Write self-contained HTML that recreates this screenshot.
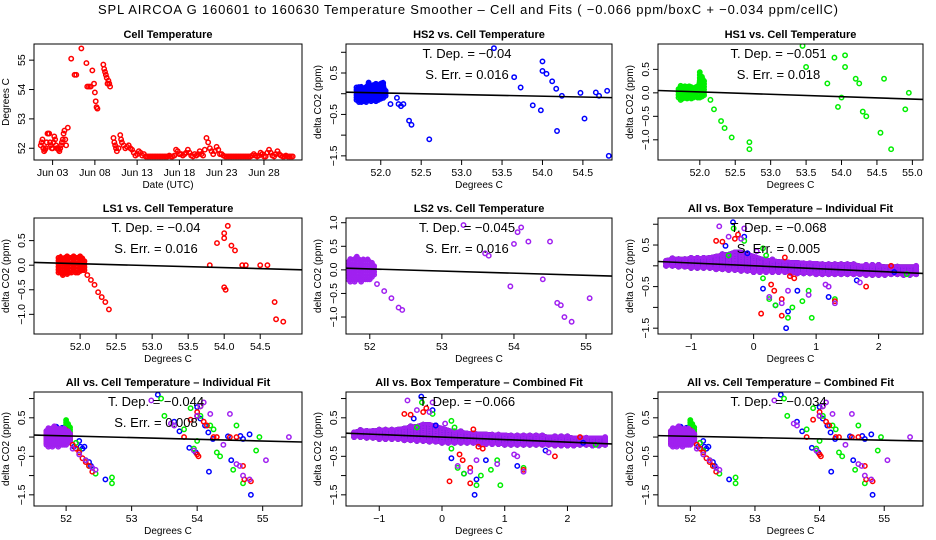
<!DOCTYPE html>
<html><head><meta charset="utf-8">
<style>
html,body{margin:0;padding:0;background:#fff;}
svg{display:block;font-family:"Liberation Sans",sans-serif;}
</style></head>
<body>
<svg id="chart" width="936" height="540" viewBox="0 0 936 540" xmlns="http://www.w3.org/2000/svg">
<text x="468" y="14" text-anchor="middle" font-size="13" textLength="740">SPL   AIRCOA G   160601 to 160630   Temperature Smoother – Cell and Fits ( −0.066  ppm/boxC +  −0.034  ppm/cellC)</text>
</svg>
<script>
// ---------- data ----------
const tDays = [1.6,1.7,1.8,1.9,2.0,2.1,2.2,2.3,2.4,2.5,2.6,2.7,2.8,2.9,3.0,3.1,3.2,3.3,3.4,3.5,3.6,3.7,3.8,3.9,4.0,4.1,4.2,4.3,4.4,4.5,4.6,4.8,5.2,5.6,5.8,6.4,7.0,7.1,7.3,7.5,7.7,7.9,8.0,8.1,8.2,8.3,9.0,9.1,9.2,9.3,9.4,9.5,9.6,9.7,9.8,10.2,10.3,10.4,10.5,10.6,10.8,11.0,11.1,11.2,11.4,11.6,11.8,12.0,12.2,12.4,12.6,12.8,13.0,13.2,13.4,13.6,13.8,14.0,14.2,14.4,14.6,14.8,15.0,15.2,15.4,15.6,15.8,16.0,16.2,16.4,16.6,16.8,17.0,17.2,17.4,17.6,17.8,18.0,18.2,18.4,18.6,18.8,19.0,19.2,19.4,19.6,19.8,20.0,20.2,20.4,20.6,20.8,21.0,21.2,21.4,21.6,21.8,22.0,22.2,22.4,22.6,22.8,23.0,23.2,23.4,23.6,23.8,24.0,24.2,24.4,24.6,24.8,25.0,25.2,25.4,25.6,25.8,26.0,26.2,26.4,26.6,26.8,27.0,27.2,27.4,27.6,27.8,28.0,28.2,28.4,28.6,28.8,29.0,29.2,29.4,29.6,29.8,30.0,30.2,30.4,30.6,30.8,31.0,31.2,31.4];
const tTemps = [52.1,52.2,52.3,52.0,51.9,51.95,52.0,52.2,52.5,52.5,52.5,52.2,52.1,52.0,52.0,52.2,52.4,52.3,52.1,52.0,52.0,51.95,51.9,52.0,52.1,52.2,52.3,52.5,52.6,52.3,52.1,52.7,55.05,54.5,54.5,55.4,54.9,54.1,54.1,54.1,54.65,54.2,53.9,53.6,53.4,53.35,54.85,54.7,54.6,54.5,54.4,54.2,54.3,54.2,54.1,52.35,52.2,52.1,52.0,51.9,52.0,52.45,52.3,52.2,52.1,52.0,52.05,52.1,52.0,51.95,51.85,51.75,51.8,51.9,51.85,51.75,51.8,51.72,51.72,51.72,51.72,51.72,51.72,51.72,51.72,51.72,51.72,51.72,51.72,51.72,51.72,51.75,51.72,51.72,51.75,51.95,51.9,51.8,51.8,51.75,51.8,51.85,51.95,51.85,51.75,51.72,51.8,51.75,51.8,51.9,51.8,51.75,51.95,52.35,52.2,52.0,51.9,51.8,51.9,52.05,51.95,51.8,51.8,51.75,51.72,51.72,51.72,51.72,51.72,51.72,51.72,51.72,51.72,51.72,51.72,51.72,51.72,51.72,51.72,51.72,51.75,51.8,51.75,51.72,51.75,51.85,51.8,51.72,51.72,51.85,51.95,51.85,51.75,51.72,51.8,51.9,51.8,51.75,51.72,51.72,51.75,51.72,51.72,51.72,51.72,51.72,51.72];
const tDayTicks = [3,8,13,18,23,28];
const tDayLabels = ["Jun 03","Jun 08","Jun 13","Jun 18","Jun 23","Jun 28"];

const clX = [51.70,51.73,51.76,51.79,51.82,51.85,51.88,51.91,51.94,51.97,52.00,52.03,52.06];
const hs2Lo = [-0.15,-0.2,-0.2,-0.18,-0.2,-0.15,-0.18,-0.15,-0.18,-0.15,-0.12,-0.1,-0.05];
const hs2Hi = [0.15,0.18,0.2,0.15,0.2,0.28,0.2,0.22,0.25,0.2,0.28,0.3,0.1];
const hs1Lo = [-0.1,-0.15,-0.12,-0.1,-0.12,-0.1,-0.12,-0.1,-0.08,-0.1,-0.1,-0.08,-0.05];
const hs1Hi = [0.1,0.15,0.12,0.15,0.12,0.15,0.15,0.12,0.15,0.15,0.45,0.35,0.3];
const ls1Lo = [-0.15,-0.15,-0.2,-0.15,-0.18,-0.15,-0.15,-0.12,-0.15,-0.15,-0.12,-0.1,-0.1];
const ls1Hi = [0.15,0.2,0.15,0.18,0.2,0.15,0.18,0.2,0.15,0.18,0.2,0.15,0.1];
const ls2Lo = [-0.2,-0.25,-0.2,-0.25,-0.2,-0.2,-0.25,-0.2,-0.2,-0.2,-0.2,-0.15,-0.1];
const ls2Hi = [0.2,0.25,0.2,0.25,0.3,0.25,0.2,0.25,0.2,0.25,0.2,0.15,0.1];

const hs2X = [52.12,52.2,52.22,52.25,52.28,52.35,52.38,52.6,53.4,53.65,53.73,53.88,53.98,54.0,54.0,54.05,54.12,54.17,54.18,54.24,54.47,54.52,54.66,54.7,54.8,54.82];
const hs2Y = [-0.25,-0.1,-0.25,-0.3,-0.25,-0.65,-0.75,-1.1,1.1,0.4,0.15,-0.28,-0.4,0.78,0.55,0.48,0.3,0.12,-0.9,-0.05,0.02,-0.6,0.03,-0.05,0.07,-1.5];
const hs1X = [52.15,52.2,52.3,52.35,52.45,52.7,52.7,53.45,53.5,53.8,53.9,54.05,54.05,54.0,53.95,54.2,54.25,54.3,54.35,54.6,54.55,54.7,54.9,54.95];
const hs1Y = [-0.15,-0.35,-0.6,-0.75,-0.95,-1.2,-1.05,1.0,0.55,0.2,0.75,0.8,0.55,-0.1,-0.3,0.3,0.2,-0.4,-0.5,0.3,-0.85,-1.2,-0.35,0.0];
const ls1X = [52.1,52.15,52.2,52.25,52.3,52.35,52.4,53.8,53.9,54.0,54.0,54.05,54.1,54.15,54.25,54.3,54.0,54.02,54.5,54.6,54.7,54.72,54.82];
const ls1Y = [-0.2,-0.3,-0.4,-0.55,-0.65,-0.75,-0.9,0.0,0.45,0.65,0.55,0.8,0.4,0.3,0.0,0.0,-0.45,-0.5,0.0,0.0,-0.75,-1.1,-1.15];
const ls2X = [52.1,52.2,52.3,52.4,52.45,53.3,53.6,53.65,53.95,54.0,54.05,54.1,54.2,54.4,54.5,54.6,54.65,54.7,54.8,55.05,55.4];
const ls2Y = [-0.3,-0.45,-0.6,-0.8,-0.85,0.95,0.35,0.3,-0.35,0.55,0.8,0.9,0.6,-0.2,0.6,-0.7,-0.75,-1.0,-1.1,-0.6,0.0];

const bandX = [-1.4,-1.3,-1.2,-1.1,-1.0,-0.9,-0.8,-0.7,-0.6,-0.5,-0.4,-0.3,-0.2,-0.1,0.0,0.1,0.2,0.3,0.4,0.5,0.6,0.7,0.8,0.9,1.0,1.1,1.2,1.3,1.4,1.5,1.6,1.7,1.8,1.9,2.0,2.1,2.2,2.3,2.4,2.5,2.6];
const bandLo = [0.0,0.0,-0.02,-0.02,-0.05,-0.05,-0.05,-0.05,-0.08,-0.08,-0.1,-0.1,-0.12,-0.12,-0.15,-0.15,-0.15,-0.15,-0.15,-0.15,-0.18,-0.18,-0.18,-0.18,-0.2,-0.2,-0.2,-0.2,-0.2,-0.2,-0.2,-0.2,-0.22,-0.22,-0.22,-0.22,-0.2,-0.2,-0.22,-0.22,-0.2];
const bandHi = [0.15,0.18,0.18,0.18,0.2,0.2,0.2,0.22,0.25,0.28,0.3,0.35,0.35,0.3,0.25,0.2,0.15,0.15,0.12,0.12,0.1,0.1,0.08,0.08,0.08,0.05,0.05,0.05,0.05,0.05,0.05,0.02,0.02,0.02,0.02,0.0,0.0,0.0,0.0,0.0,0.0];
const boxBlueX = [-0.33,-0.45,-0.1,0.15,0.35,0.55,0.52,0.7,1.2,1.65,2.25,-0.15];
const boxBlueY = [1.05,0.48,0.3,-0.55,-0.95,-1.1,-1.5,-0.6,-0.75,-0.35,-0.15,0.7];
const boxGreenX = [-0.32,-0.15,-0.4,0.15,0.2,0.15,0.25,0.35,0.55,0.62,0.78,0.88,0.93,1.3,2.45];
const boxGreenY = [0.9,0.6,0.25,0.42,0.25,-0.3,-0.8,-0.95,-1.25,-1.0,-0.85,-0.6,-1.25,-0.8,-0.2];
const boxRedX = [-0.6,-0.5,-0.25,-0.3,0.12,0.28,0.33,0.45,0.45,0.58,0.65,1.3,1.8,2.2,0.5];
const boxRedY = [0.6,0.58,0.75,0.65,-1.15,-0.45,-0.6,-0.8,-1.2,-0.25,-0.3,-0.85,-0.5,0.0,0.2];
const boxPurpX = [-0.55,-0.4,-0.2,-0.15,0.05,0.25,0.45,0.55,0.88,1.15,1.2,1.3,1.7,2.6];
const boxPurpY = [0.95,0.7,0.65,0.9,0.35,-0.75,-0.9,-0.6,-0.7,-0.45,-0.5,-0.9,-0.4,0.0];

const slopes = [-0.04,-0.051,-0.04,-0.045,-0.068,-0.044,-0.066,-0.034];
const icepts = [0.02,0.02,0.03,0.02,0.0,0.03,0.0,0.02];

const BLUE="#0000ff",GREEN="#00ee00",RED="#ff0000",PURP="#a020f0";
const svg=document.getElementById('chart');
const NS="http://www.w3.org/2000/svg";
function mk(tag,attrs,parent){const e=document.createElementNS(NS,tag);for(const k in attrs)e.setAttribute(k,attrs[k]);(parent||svg).appendChild(e);return e;}
let clipN=0;
function panel(c){
  const g=mk('g',{});
  
  
  const [x0,y0,w,h]=c.box;
  const sx=v=>x0+(v-c.xd[0])/(c.xd[1]-c.xd[0])*w;
  const sy=v=>y0+(c.yd[0]-v)/(c.yd[0]-c.yd[1])*h;
  const id='cp'+(clipN++);
  const cp=mk('clipPath',{id:id},g);mk('rect',{x:x0,y:y0,width:w,height:h},cp);
  const pg=mk('g',{'clip-path':'url(#'+id+')'},g);
  const dot=(x,y,col)=>{const e=mk('circle',{cx:sx(x),cy:sy(y),r:2.2,fill:'none',stroke:col,'stroke-width':1.5},pg);
    
    };
  (c.clusters||[]).forEach(cl=>{
    let pts=cl.x.map((xv,i)=>sx(xv)+','+sy(cl.hi[i])).concat(cl.x.map((xv,i)=>sx(xv)+','+sy(cl.lo[i])).reverse());
    const pl=mk('polygon',{points:pts.join(' '),fill:cl.col,'fill-opacity':0.55,stroke:cl.col,'stroke-width':3,'stroke-linejoin':'round'},pg);
    
    
    cl.x.forEach((xv,i)=>{for(let y=cl.lo[i];y<=cl.hi[i]+1e-9;y+=0.06)dot(xv,y,cl.col);});});
  (c.series||[]).forEach(s=>{s.x.forEach((xv,i)=>dot(xv,s.y[i],s.col));});
  if(c.fit){const [sl,ic,xr]=c.fit;
    const ln=mk('line',{x1:x0,y1:sy(ic+sl*(c.xd[0]-xr)),x2:x0+w,y2:sy(ic+sl*(c.xd[1]-xr)),stroke:'#000','stroke-width':1.6},pg);
    
    }
  const fr=mk('rect',{x:x0,y:y0,width:w,height:h,fill:'none',stroke:'#000','stroke-width':1},g);
  
  
  c.xt.forEach((t,i)=>{mk('line',{x1:sx(t),x2:sx(t),y1:y0+h,y2:y0+h+5,stroke:'#000'},g);
    const tx=mk('text',{x:sx(t),y:y0+h+16,'text-anchor':'middle','font-size':10.5},g);tx.textContent=c.xl[i];
    
    });
  c.yt.forEach((t,i)=>{mk('line',{x1:x0-5,x2:x0,y1:sy(t),y2:sy(t),stroke:'#000'},g);
    if(c.yl[i]){const tx=mk('text',{x:x0-9,y:sy(t),'text-anchor':'middle','font-size':10.5,transform:`rotate(-90 ${x0-9} ${sy(t)})`},g);tx.textContent=c.yl[i];
    
    }});
  const ti=mk('text',{x:x0+w/2,y:y0-6,'text-anchor':'middle','font-size':11,'font-weight':'bold'},g);ti.textContent=c.title;
  
  
  const xl=mk('text',{x:x0+w/2,y:y0+h+28,'text-anchor':'middle','font-size':10},g);xl.textContent=c.xlab;
  
  
  const yx=x0-25,yy=y0+h/2;
  const yl=mk('text',{x:yx,y:yy,'text-anchor':'middle','font-size':10,transform:`rotate(-90 ${yx} ${yy})`},g);yl.textContent=c.ylab;
  
  
  (c.notes||[]).forEach((n,i)=>{const t=mk('text',{x:x0+w/2-12,y:y0+14+i*21,'text-anchor':'middle','font-size':13},g);t.textContent=n;
    
    });
}
const cellYt=[1,0.5,0,-0.5,-1,-1.5];
const allCell=[{x:clX,lo:hs2Lo,hi:hs2Hi,col:BLUE},{x:clX,lo:hs1Lo,hi:hs1Hi,col:GREEN},{x:clX,lo:ls1Lo,hi:ls1Hi,col:RED},{x:clX,lo:ls2Lo,hi:ls2Hi,col:PURP}];
const allCellS=[{x:hs2X,y:hs2Y,col:BLUE},{x:hs1X,y:hs1Y,col:GREEN},{x:ls1X,y:ls1Y,col:RED},{x:ls2X,y:ls2Y,col:PURP}];
const boxCl=[{x:bandX,lo:bandLo,hi:bandHi,col:GREEN},{x:bandX,lo:bandLo,hi:bandHi,col:RED},{x:bandX,lo:bandLo,hi:bandHi,col:BLUE},{x:bandX,lo:bandLo,hi:bandHi,col:PURP}];
const boxS=[{x:boxBlueX,y:boxBlueY,col:BLUE},{x:boxGreenX,y:boxGreenY,col:GREEN},{x:boxRedX,y:boxRedY,col:RED},{x:boxPurpX,y:boxPurpY,col:PURP}];

panel({name:'cell-temperature-panel',box:[34,44,268,116],xd:[0.8,32.5],yd:[55.55,51.6],
  xt:tDayTicks,xl:tDayLabels,yt:[52,53,54,55],yl:["52","53","54","55"],
  title:'Cell Temperature',xlab:'Date (UTC)',ylab:'Degrees C',series:[{x:tDays,y:tTemps,col:RED}]});
panel({name:'hs2-panel',box:[346,44,266,116],xd:[51.57,54.86],yd:[1.2,-1.6],
  xt:[52,52.5,53,53.5,54,54.5],xl:["52.0","52.5","53.0","53.5","54.0","54.5"],yt:cellYt,yl:["","0.5","","−0.5","","−1.5"],
  title:'HS2 vs. Cell Temperature',xlab:'Degrees C',ylab:'delta CO2 (ppm)',
  clusters:[{x:clX,lo:hs2Lo,hi:hs2Hi,col:BLUE}],series:[{x:hs2X,y:hs2Y,col:BLUE}],fit:[slopes[0],icepts[0],52],
  notes:['T. Dep. = −0.04','S. Err. = 0.016']});
panel({name:'hs1-panel',box:[658,44,265,116],xd:[51.41,55.15],yd:[1.04,-1.43],
  xt:[52,52.5,53,53.5,54,54.5,55],xl:["52.0","52.5","53.0","53.5","54.0","54.5","55.0"],yt:[0.5,0,-0.5,-1],yl:["0.5","0.0","−0.5","−1.0"],
  title:'HS1 vs. Cell Temperature',xlab:'Degrees C',ylab:'delta CO2 (ppm)',
  clusters:[{x:clX,lo:hs1Lo,hi:hs1Hi,col:GREEN}],series:[{x:hs1X,y:hs1Y,col:GREEN}],fit:[slopes[1],icepts[1],52],
  notes:['T. Dep. = −0.051','S. Err. = 0.018']});
panel({name:'ls1-panel',box:[34,218,268,116],xd:[51.36,55.08],yd:[0.96,-1.4],
  xt:[52,52.5,53,53.5,54,54.5],xl:["52.0","52.5","53.0","53.5","54.0","54.5"],yt:[0.5,0,-0.5,-1],yl:["0.5","0.0","−0.5","−1.0"],
  title:'LS1 vs. Cell Temperature',xlab:'Degrees C',ylab:'delta CO2 (ppm)',
  clusters:[{x:clX,lo:ls1Lo,hi:ls1Hi,col:RED}],series:[{x:ls1X,y:ls1Y,col:RED}],fit:[slopes[2],icepts[2],52],
  notes:['T. Dep. = −0.04','S. Err. = 0.016']});
panel({name:'ls2-panel',box:[346,218,266,116],xd:[51.67,55.36],yd:[1.1,-1.36],
  xt:[52,53,54,55],xl:["52","53","54","55"],yt:[1,0.5,0,-0.5,-1],yl:["1.0","0.5","0.0","−0.5","−1.0"],
  title:'LS2 vs. Cell Temperature',xlab:'Degrees C',ylab:'delta CO2 (ppm)',
  clusters:[{x:clX,lo:ls2Lo,hi:ls2Hi,col:PURP}],series:[{x:ls2X,y:ls2Y,col:PURP}],fit:[slopes[3],icepts[3],52],
  notes:['T. Dep. = −0.045','S. Err. = 0.016']});
panel({name:'all-box-individual-panel',box:[658,218,265,116],xd:[-1.53,2.71],yd:[1.15,-1.64],
  xt:[-1,0,1,2],xl:["−1","0","1","2"],yt:cellYt,yl:["","0.5","","−0.5","","−1.5"],
  title:'All vs. Box Temperature – Individual Fit',xlab:'Degrees C',ylab:'delta CO2 (ppm)',
  clusters:boxCl,series:boxS,fit:[slopes[4],icepts[4],0],notes:['T. Dep. = −0.068','S. Err. = 0.005']});
panel({name:'all-cell-individual-panel',box:[34,392,268,114],xd:[51.51,55.6],yd:[1.17,-1.79],
  xt:[52,53,54,55],xl:["52","53","54","55"],yt:cellYt,yl:["","0.5","","−0.5","","−1.5"],
  title:'All vs. Cell Temperature – Individual Fit',xlab:'Degrees C',ylab:'delta CO2 (ppm)',
  clusters:allCell,series:allCellS,fit:[slopes[5],icepts[5],52],notes:['T. Dep. = −0.044','S. Err. = 0.008']});
panel({name:'all-box-combined-panel',box:[346,392,266,114],xd:[-1.53,2.71],yd:[1.17,-1.79],
  xt:[-1,0,1,2],xl:["−1","0","1","2"],yt:cellYt,yl:["","0.5","","−0.5","","−1.5"],
  title:'All vs. Box Temperature – Combined Fit',xlab:'Degrees C',ylab:'delta CO2 (ppm)',
  clusters:boxCl,series:boxS,fit:[slopes[6],icepts[6],0],notes:['T. Dep. = −0.066']});
panel({name:'all-cell-combined-panel',box:[658,392,265,114],xd:[51.5,55.6],yd:[1.17,-1.79],
  xt:[52,53,54,55],xl:["52","53","54","55"],yt:cellYt,yl:["","0.5","","−0.5","","−1.5"],
  title:'All vs. Cell Temperature – Combined Fit',xlab:'Degrees C',ylab:'delta CO2 (ppm)',
  clusters:allCell,series:allCellS,fit:[slopes[7],icepts[7],52],notes:['T. Dep. = −0.034']});
</script>
</body></html>
